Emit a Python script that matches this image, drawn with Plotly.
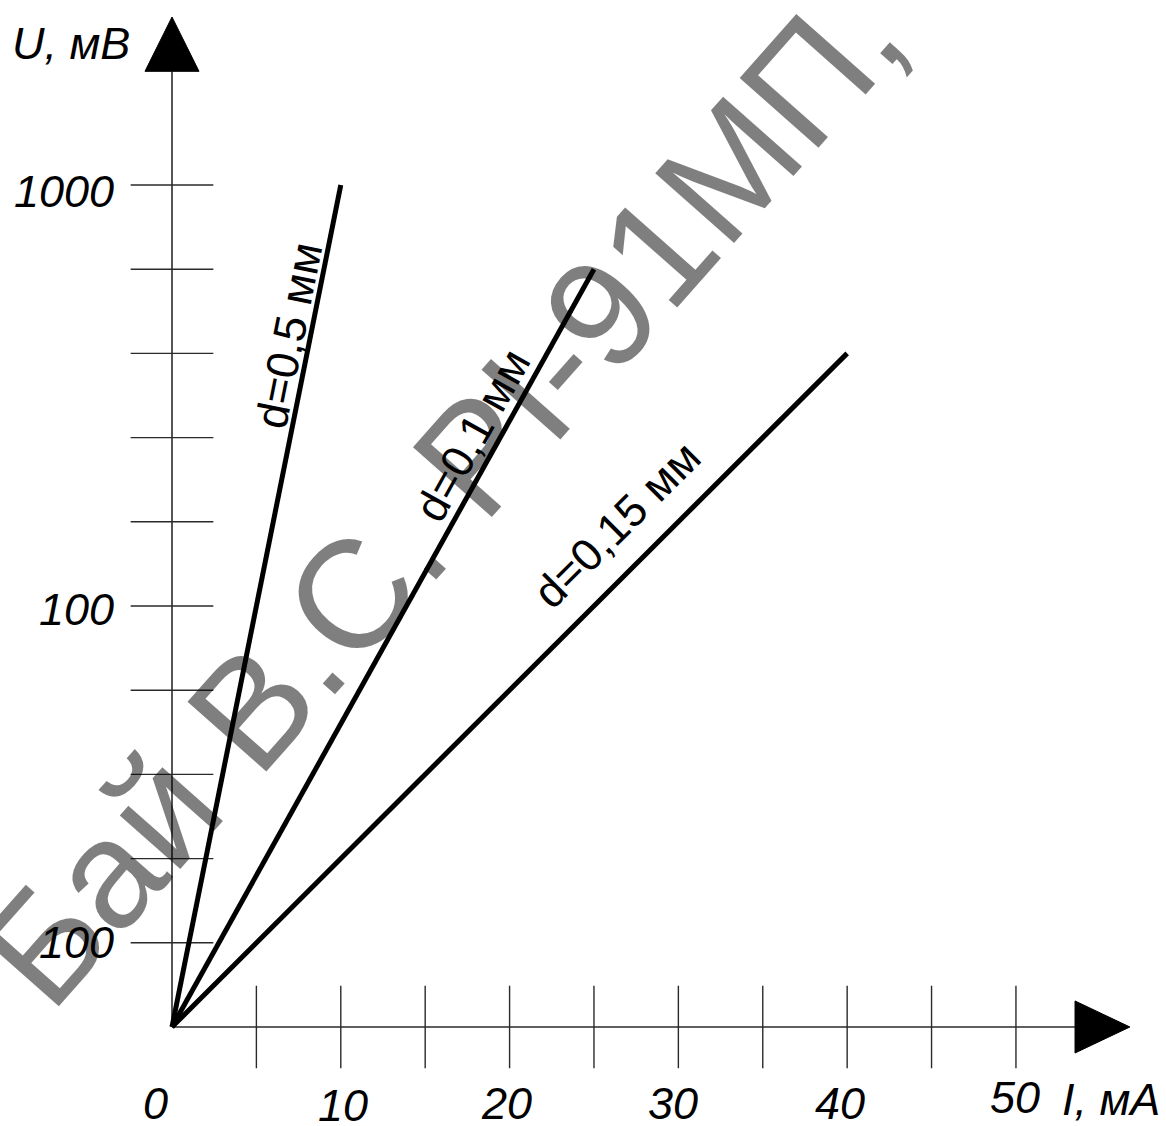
import math
import plotly.graph_objects as go

# ---- data -------------------------------------------------------------
series_names = ["d=0,5 мм", "d=0,1 мм", "d=0,15 мм"]
current_end = [10, 25, 40]          # I, mA at the end of each line
voltage_end = [1000, 900, 800]      # U, mV at the end of each line

x_tick_values = [5, 10, 15, 20, 25, 30, 35, 40, 45, 50]
x_label_values = [0, 10, 20, 30, 40, 50]
x_label_texts = ["0", "10", "20", "30", "40", "50"]

y_tick_values = [100, 200, 300, 400, 500, 600, 700, 800, 900, 1000]
y_label_values = [100, 500, 1000]
y_label_texts = ["100", "100", "1000"]

x_title = "I, мА"
y_title = "U, мВ"
stamp_text = "Бай В.С. РІ-91МП,"

# ---- geometry / style ---------------------------------------------------
W, H = 1166, 1126
X_RANGE = [-10.19, 58.89]
Y_RANGE = [-117.6, 1219.7]
px_per_x = W / (X_RANGE[1] - X_RANGE[0])
px_per_y = H / (Y_RANGE[1] - Y_RANGE[0])

FONT = "Liberation Sans, Arial, sans-serif"
AXIS_COLOR = "#2a2a2a"
TICK_HALF_X = 2.45      # half length of the y-axis tick marks, mA
TICK_HALF_Y = 49.0      # half length of the x-axis tick marks, mV
X_AXIS_END = 53.5
Y_AXIS_END = 1135.0

fig = go.Figure()

# lines from the origin
for name, i_end, u_end in zip(series_names, current_end, voltage_end):
    fig.add_trace(go.Scatter(
        x=[0, i_end], y=[0, u_end], mode="lines", name=name,
        line=dict(color="black", width=5), showlegend=False,
        hoverinfo="skip"))

shapes = []
# axis lines
shapes.append(dict(type="line", xref="x", yref="y", x0=0, y0=0, x1=X_AXIS_END, y1=0,
                   line=dict(color=AXIS_COLOR, width=1.6), layer="below"))
shapes.append(dict(type="line", xref="x", yref="y", x0=0, y0=0, x1=0, y1=Y_AXIS_END,
                   line=dict(color=AXIS_COLOR, width=1.6), layer="below"))
# tick marks crossing the axes
for xv in x_tick_values:
    shapes.append(dict(type="line", xref="x", yref="y", x0=xv, x1=xv,
                       y0=-TICK_HALF_Y, y1=TICK_HALF_Y,
                       line=dict(color=AXIS_COLOR, width=1.4), layer="below"))
for yv in y_tick_values:
    shapes.append(dict(type="line", xref="x", yref="y", y0=yv, y1=yv,
                       x0=-TICK_HALF_X, x1=TICK_HALF_X,
                       line=dict(color=AXIS_COLOR, width=1.4), layer="below"))
# arrow heads
shapes.append(dict(type="path", xref="x", yref="y",
                   path=f"M {X_AXIS_END},{-30.9} L {56.75},0 L {X_AXIS_END},{30.9} Z",
                   fillcolor="black", line=dict(color="black", width=1)))
shapes.append(dict(type="path", xref="x", yref="y",
                   path=f"M {-1.6},{Y_AXIS_END} L 0,{1199.5} L {1.6},{Y_AXIS_END} Z",
                   fillcolor="black", line=dict(color="black", width=1)))

annotations = []

# faint stamp across the drawing
annotations.append(dict(
    text=stamp_text, xref="paper", yref="paper", x=440 / W, y=1 - 494 / H,
    xanchor="center", yanchor="middle", showarrow=False, textangle=-48.5,
    font=dict(family=FONT, size=153, color="rgba(0,0,0,0.5)")))

label_font = dict(family=FONT, size=45, color="black", style="italic")

# x labels
x_label_shift = [(-17, 3), (2, 1), (-3, 3), (-5, 3), (-7, 3), (-1, 9)]
for v, t, (dx, dy) in zip(x_label_values, x_label_texts, x_label_shift):
    annotations.append(dict(text=t, x=v, y=-95, xref="x", yref="y",
                            xanchor="center", yanchor="middle", showarrow=False,
                            xshift=dx, yshift=dy, font=label_font))
# y labels
y_label_shift = [0, -4, -7]
for v, t, dy in zip(y_label_values, y_label_texts, y_label_shift):
    annotations.append(dict(text=t, x=-3.3, y=v, xref="x", yref="y",
                            xanchor="right", yanchor="middle", showarrow=False,
                            yshift=dy, font=label_font))
# axis titles
annotations.append(dict(text=y_title, x=-2.37, y=1167.5, xref="x", yref="y",
                        xanchor="right", yanchor="middle", showarrow=False,
                        font=label_font))
annotations.append(dict(text=x_title, x=52.6, y=-88, xref="x", yref="y",
                        xanchor="left", yanchor="middle", showarrow=False,
                        yshift=2, font=label_font))

# line captions, turned to follow each line
caption_pos = [(6.93, 821), (17.77, 703), (26.36, 597)]
for name, i_end, u_end, (cx, cy) in zip(series_names, current_end, voltage_end, caption_pos):
    ang = math.degrees(math.atan2(u_end * px_per_y, i_end * px_per_x))
    annotations.append(dict(text=name, x=cx, y=cy, xref="x", yref="y",
                            xanchor="center", yanchor="middle", showarrow=False,
                            textangle=-ang,
                            font=dict(family=FONT, size=45, color="black")))

fig.update_layout(
    width=W, height=H, margin=dict(l=0, r=0, t=0, b=0),
    paper_bgcolor="white", plot_bgcolor="white",
    xaxis=dict(range=X_RANGE, visible=False, fixedrange=True),
    yaxis=dict(range=Y_RANGE, visible=False, fixedrange=True),
    shapes=shapes, annotations=annotations, showlegend=False,
)

fig.write_html("out.html")
